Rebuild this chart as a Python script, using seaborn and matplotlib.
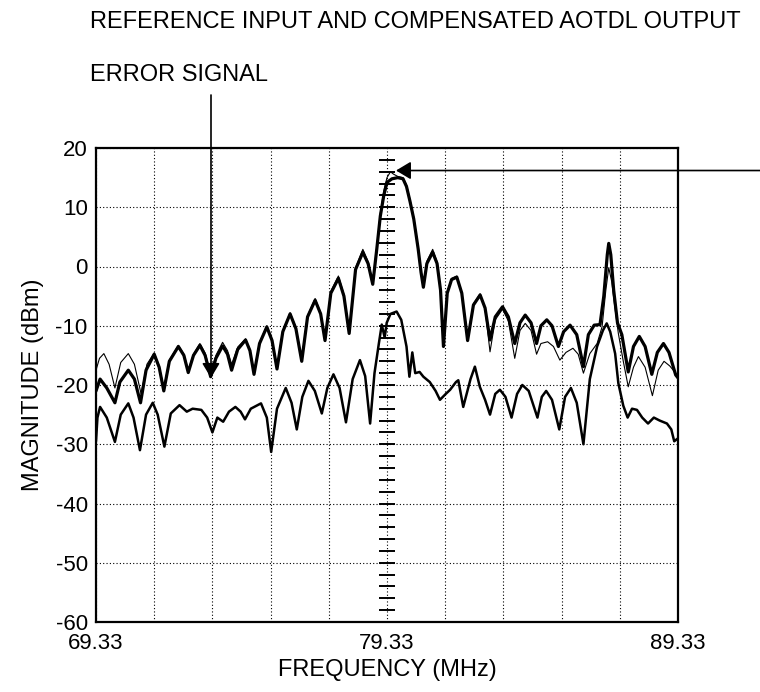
import matplotlib
matplotlib.use("Agg")
import matplotlib.pyplot as plt
import numpy as np
import seaborn as sns

# compensated AOTDL output (heavy trace)
out_freq = [69.33, 69.47, 69.70, 69.98, 70.15, 70.44, 70.65, 70.86, 71.05, 71.33,
            71.50, 71.66, 71.85, 72.16, 72.35, 72.50, 72.68, 72.90, 73.08, 73.27,
            73.45, 73.68, 73.85, 73.99, 74.20, 74.47, 74.62, 74.76, 74.95, 75.20,
            75.38, 75.55, 75.75, 76.00, 76.20, 76.40, 76.60, 76.86, 77.05, 77.20,
            77.40, 77.66, 77.85, 78.03, 78.25, 78.50, 78.68, 78.84, 78.98, 79.10,
            79.22, 79.33, 79.50, 79.70, 79.88, 80.00, 80.12, 80.25, 80.40, 80.50,
            80.58, 80.70, 80.90, 81.05, 81.17, 81.27, 81.40, 81.55, 81.73, 81.90,
            82.10, 82.30, 82.53, 82.70, 82.87, 83.05, 83.30, 83.50, 83.72, 83.90,
            84.08, 84.28, 84.47, 84.62, 84.82, 85.00, 85.22, 85.40, 85.62, 85.85,
            86.08, 86.25, 86.45, 86.65, 86.78, 86.90, 86.95, 87.02, 87.12, 87.25,
            87.40, 87.62, 87.80, 88.00, 88.20, 88.43, 88.62, 88.83, 89.02, 89.25,
            89.33]
out_db = [-21.0, -19.0, -20.5, -23.0, -19.5, -17.5, -19.0, -23.0, -17.5, -14.8,
          -17.0, -21.0, -16.0, -13.5, -15.0, -17.9, -15.0, -13.3, -15.0, -18.6,
          -15.5, -13.4, -14.8, -17.5, -14.0, -12.4, -14.2, -18.2, -13.0, -10.2,
          -12.5, -17.3, -11.0, -8.0, -10.5, -16.0, -8.5, -5.7, -8.0, -12.5,
          -4.5, -2.0, -5.0, -11.3, -0.5, 2.4, 0.5, -3.0, 3.0, 8.5,
          12.0, 14.2, 14.8, 15.0, 14.8, 13.5, 11.0, 8.0, 3.0, -1.0,
          -3.5, 0.5, 2.4, 0.5, -4.0, -13.5, -4.5, -2.2, -1.8, -4.5,
          -12.5, -6.5, -4.8, -7.0, -12.4, -8.5, -6.8, -8.5, -13.0, -9.5,
          -8.2, -9.5, -13.0, -10.0, -9.0, -10.0, -13.5, -11.0, -9.9, -11.5,
          -16.9, -11.5, -9.9, -9.8, -5.0, 2.0, 3.9, 2.0, -4.0, -9.5,
          -11.5, -17.8, -13.5, -11.8, -13.5, -18.2, -14.5, -13.0, -14.5, -18.3,
          -18.8]

# reference input (thin trace)
ref_freq = [69.33, 69.45, 69.60, 69.78, 69.98, 70.18, 70.44, 70.65, 70.88, 71.08,
            71.33, 71.50, 71.66, 71.85, 72.16, 72.35, 72.50, 72.68, 72.90, 73.08,
            73.27, 73.45, 73.68, 73.85, 73.99, 74.20, 74.47, 74.62, 74.76, 74.95,
            75.20, 75.38, 75.55, 75.75, 76.00, 76.20, 76.40, 76.60, 76.86, 77.05,
            77.20, 77.40, 77.66, 77.85, 78.03, 78.25, 78.50, 78.68, 78.84, 78.98,
            79.10, 79.22, 79.33, 79.45, 79.55, 79.70, 79.88, 80.00, 80.12, 80.25,
            80.40, 80.50, 80.58, 80.70, 80.90, 81.05, 81.17, 81.27, 81.40, 81.55,
            81.73, 81.90, 82.10, 82.30, 82.53, 82.70, 82.87, 83.05, 83.30, 83.50,
            83.72, 83.90, 84.08, 84.28, 84.47, 84.62, 84.85, 85.05, 85.27, 85.48,
            85.72, 85.90, 86.08, 86.30, 86.55, 86.72, 86.85, 86.95, 87.05, 87.15,
            87.28, 87.45, 87.62, 87.80, 87.97, 88.20, 88.45, 88.65, 88.85, 89.05,
            89.25, 89.33]
ref_db = [-17.5, -15.5, -14.7, -16.5, -20.5, -16.2, -14.7, -16.5, -21.5, -16.5,
          -14.6, -16.8, -20.5, -15.8, -13.3, -14.8, -17.5, -14.8, -13.0, -14.6,
          -18.0, -15.0, -12.8, -14.2, -16.5, -13.6, -12.2, -14.0, -17.8, -12.8,
          -10.0, -12.3, -17.0, -10.8, -7.8, -10.3, -15.6, -8.3, -5.4, -7.8,
          -12.2, -4.2, -1.6, -4.7, -11.0, -0.2, 2.9, 0.8, -2.6, 3.3,
          9.0, 12.8, 15.0, 16.0, 15.6, 15.2, 15.0, 13.8, 11.3, 8.3,
          3.3, -0.7, -3.2, 0.9, 2.9, 0.8, -3.8, -12.5, -4.3, -2.0,
          -1.6, -4.3, -12.0, -6.3, -4.6, -7.2, -14.4, -9.0, -7.2, -9.2,
          -15.5, -10.8, -9.6, -10.8, -14.8, -13.0, -12.7, -13.5, -15.8, -14.5,
          -13.8, -14.8, -18.0, -14.7, -13.0, -10.2, -4.0, -0.2, -2.5, -6.5,
          -11.3, -16.0, -20.3, -17.0, -15.2, -17.0, -21.8, -17.5, -16.0, -16.8,
          -18.0, -18.5]

# error signal (lower trace)
err_freq = [69.33, 69.38, 69.47, 69.70, 69.98, 70.18, 70.44, 70.62, 70.84, 71.05,
            71.28, 71.45, 71.68, 71.90, 72.20, 72.45, 72.65, 72.95, 73.15, 73.33,
            73.50, 73.70, 73.90, 74.12, 74.30, 74.45, 74.65, 75.00, 75.20, 75.35,
            75.55, 75.85, 76.05, 76.23, 76.42, 76.63, 76.85, 77.09, 77.28, 77.49,
            77.70, 77.92, 78.15, 78.40, 78.58, 78.75, 78.90, 79.05, 79.15, 79.25,
            79.32, 79.45, 79.66, 79.82, 80.00, 80.10, 80.20, 80.30, 80.45, 80.58,
            80.80, 81.00, 81.15, 81.35, 81.50, 81.70, 81.78, 81.95, 82.20, 82.35,
            82.52, 82.70, 82.87, 83.05, 83.21, 83.40, 83.61, 83.80, 83.98, 84.20,
            84.50, 84.65, 84.80, 85.00, 85.25, 85.45, 85.65, 85.85, 86.08, 86.30,
            86.55, 86.75, 86.88, 87.00, 87.17, 87.28, 87.45, 87.60, 87.75, 87.92,
            88.10, 88.30, 88.50, 88.70, 88.95, 89.10, 89.20, 89.33]
err_db = [-29.5, -25.5, -23.7, -25.5, -29.6, -25.0, -23.1, -25.5, -31.0, -25.0,
          -23.0, -25.0, -30.4, -24.8, -23.4, -24.5, -24.0, -24.2, -25.5, -28.0,
          -25.5, -26.2, -24.5, -23.7, -24.5, -25.8, -24.0, -23.1, -25.5, -31.3,
          -24.0, -20.5, -23.0, -27.5, -22.0, -19.3, -21.0, -24.8, -20.5, -18.2,
          -20.5, -26.3, -19.0, -15.8, -18.5, -26.5, -18.0, -13.0, -9.8, -12.0,
          -9.5, -8.0, -7.6, -9.0, -13.5, -18.6, -14.5, -18.0, -17.8, -18.6,
          -19.5, -21.0, -22.5, -21.5, -20.8, -19.5, -19.2, -23.7, -19.0, -16.9,
          -20.3, -22.5, -25.0, -21.5, -20.8, -22.0, -25.5, -21.5, -20.0, -21.0,
          -25.5, -22.0, -21.0, -22.5, -27.5, -22.0, -20.5, -23.0, -30.0, -19.0,
          -13.5, -10.8, -9.6, -11.0, -14.7, -19.7, -23.5, -25.5, -24.0, -24.2,
          -25.5, -26.5, -25.5, -26.0, -26.5, -27.5, -29.5, -29.0]

x_ticklabels = ["69.33", "79.33", "89.33"]
y_ticks = [20, 10, 0, -10, -20, -30, -40, -50, -60]

sns.set_style("white")
plt.rcParams["font.family"] = ["Liberation Sans", "DejaVu Sans"]
plt.rcParams["text.color"] = "black"
plt.rcParams["axes.labelcolor"] = "black"
plt.rcParams["xtick.color"] = "black"
plt.rcParams["ytick.color"] = "black"

fig = plt.figure(figsize=(7.6, 6.92), dpi=100)
ax = fig.add_axes([96 / 760, 1 - 622 / 692, 582 / 760, 474 / 692])

sns.lineplot(x=out_freq, y=out_db, ax=ax, color="black", linewidth=2.3,
             estimator=None, sort=False)
sns.lineplot(x=err_freq, y=err_db, ax=ax, color="black", linewidth=1.8,
             estimator=None, sort=False)
sns.lineplot(x=ref_freq, y=ref_db, ax=ax, color="black", linewidth=0.8,
             estimator=None, sort=False)

x0, x1 = float(x_ticklabels[0]), float(x_ticklabels[-1])
ax.set_xlim(x0, x1)
ax.set_ylim(min(y_ticks), max(y_ticks))

# grid every 2 MHz, labels only at the ends and centre
xt = np.linspace(x0, x1, 11)
ax.set_xticks(xt)
ax.set_xticklabels([x_ticklabels[i // 5] if i % 5 == 0 else "" for i in range(len(xt))])
ax.set_yticks(y_ticks)
ax.set_yticklabels([str(v) for v in y_ticks])
ax.tick_params(length=0, labelsize=16, colors="black")
ax.tick_params(axis="x", pad=8)
ax.tick_params(axis="y", pad=6)
ax.grid(True, color="black", linestyle=(0, (1, 2)), linewidth=0.8)
ax.set_axisbelow(True)
for s in ax.spines.values():
    s.set_visible(True)
    s.set_color("black")
    s.set_linewidth(1.6)

# graticule ticks on the centre line
sec = ax.secondary_yaxis(0.5)
sec.yaxis.set_ticks_position("left")
sec.set_yticks(np.arange(-58, 19, 2))
sec.tick_params(axis="y", direction="inout", length=12, width=1.4,
                labelleft=False, labelright=False)
for s in sec.spines.values():
    s.set_visible(False)

ax.set_xlabel("FREQUENCY (MHz)", fontsize=17)
ax.set_ylabel("MAGNITUDE (dBm)", fontsize=17)
ax.xaxis.set_label_coords(0.5, -0.078)
ax.yaxis.set_label_coords(-0.09, 0.5)

fig.text(90 / 760, 1 - 22 / 692, "REFERENCE INPUT AND COMPENSATED AOTDL OUTPUT",
         fontsize=17, ha="left", va="center")

ax.annotate("ERROR SIGNAL", xy=(73.28, -18.8), xycoords="data",
            xytext=(90 / 760, 1 - 75 / 692), textcoords="figure fraction",
            fontsize=17, ha="left", va="center", annotation_clip=False,
            arrowprops=dict(arrowstyle="-|>,head_length=0.5,head_width=0.3",
                            connectionstyle="angle,angleA=0,angleB=90,rad=0",
                            color="black", lw=1.2, shrinkA=4, shrinkB=0,
                            relpos=(1, 0.5), mutation_scale=18))
ax.annotate("", xy=(79.64, 16.2), xycoords="data",
            xytext=(1.0, 16.2), textcoords=("figure fraction", "data"),
            annotation_clip=False,
            arrowprops=dict(arrowstyle="-|>,head_length=0.5,head_width=0.3",
                            color="black", lw=1.2, shrinkA=0, shrinkB=0,
                            mutation_scale=18))

fig.savefig("out.png", dpi=100)
